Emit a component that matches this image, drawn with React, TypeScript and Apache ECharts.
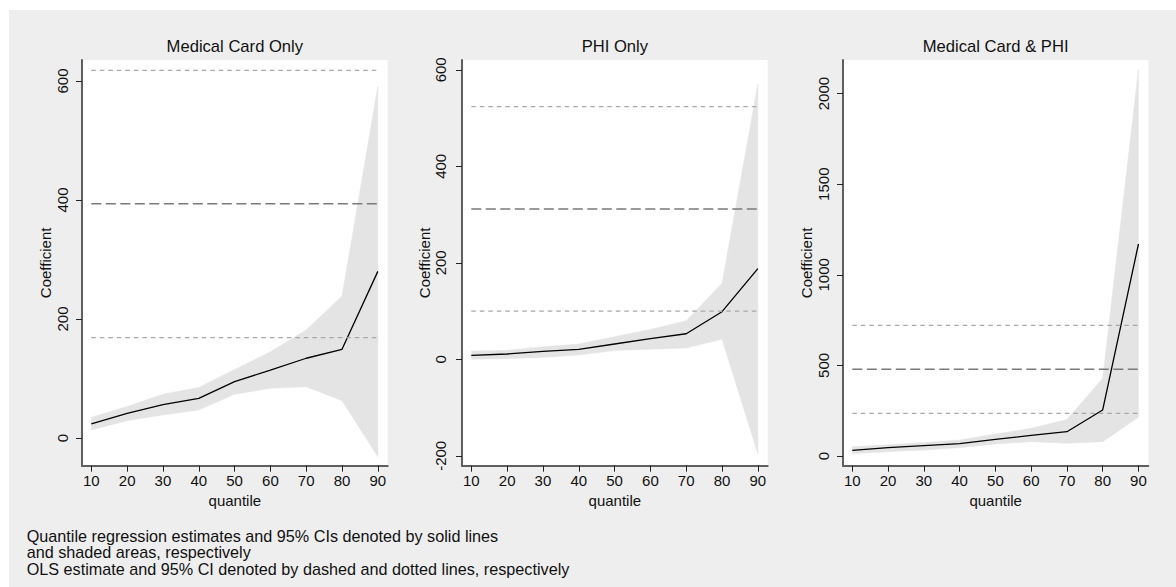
import React, { useEffect, useRef } from "react";
import * as echarts from "echarts";

// ---------- data ----------
const QUANTILES = [10, 20, 30, 40, 50, 60, 70, 80, 90];
const PANEL_TITLES = ["Medical Card Only", "PHI Only", "Medical Card & PHI"];

// Medical Card Only
const MC_EST = [23.5, 41.5, 56, 66.7, 94.6, 114, 134, 149, 280];
const MC_HI = [35, 53, 73.4, 85, 115, 145, 181.5, 238.7, 591.6];
const MC_LO = [13.4, 29, 38.7, 47, 73.4, 83.5, 86, 62.7, -31.4];
const MC_OLS = 393.8;
const MC_OLS_LO = 168.6;
const MC_OLS_HI = 618;

// PHI Only
const PHI_EST = [8.3, 11, 16.6, 20.7, 31.7, 42.7, 53, 98.7, 187.8];
const PHI_HI = [17, 18.6, 26, 31.7, 47, 62, 80, 157.5, 570.6];
const PHI_LO = [0, 1.4, 4, 9, 18, 21, 23.4, 41.5, -196];
const PHI_OLS = 311.5;
const PHI_OLS_LO = 100;
const PHI_OLS_HI = 523.5;

// Medical Card & PHI
const BOTH_EST = [31, 46, 57, 68, 92, 114, 134, 254, 1170];
const BOTH_HI = [51, 62, 75, 88, 121, 153, 202, 429, 2134];
const BOTH_LO = [13, 24, 33, 46, 66, 79, 70, 79, 214];
const BOTH_OLS = 478.5;
const BOTH_OLS_LO = 235.6;
const BOTH_OLS_HI = 721;

const Y_TICKS_MC = [0, 200, 400, 600];
const Y_TICKS_PHI = [-200, 0, 200, 400, 600];
const Y_TICKS_BOTH = [0, 500, 1000, 1500, 2000];
const Y_RANGE_MC = [-46.6, 635.3];
const Y_RANGE_PHI = [-220.5, 620.3];
const Y_RANGE_BOTH = [-53.5, 2185.4];
const X_TICKS = QUANTILES;
const X_RANGE = [7.4, 92.75];

const Y_TITLE = "Coefficient";
const X_TITLE = "quantile";
const NOTES = [
  "Quantile regression estimates and 95% CIs denoted by solid lines",
  "and shaded areas, respectively",
  "OLS estimate and 95% CI denoted by dashed and dotted lines, respectively",
];

// ---------- styling / layout ----------
const FONT = "'Liberation Sans', Arial, Helvetica, sans-serif";
const TEXT = "#111111";
const BG = "#eeeeee";
const BAND = "#e4e4e4";
const AXIS = "#5f5f5f";

const GRIDS = [
  { left: 82, top: 60, width: 305.7, height: 405.7, labelMargin: 12.5 },
  { left: 462, top: 60, width: 305.7, height: 405.7, labelMargin: 14.5 },
  { left: 843, top: 60, width: 305.3, height: 405.7, labelMargin: 12.5 },
];

const PANELS = [
  { est: MC_EST, hi: MC_HI, lo: MC_LO, ols: MC_OLS, olsLo: MC_OLS_LO, olsHi: MC_OLS_HI, ticks: Y_TICKS_MC, range: Y_RANGE_MC },
  { est: PHI_EST, hi: PHI_HI, lo: PHI_LO, ols: PHI_OLS, olsLo: PHI_OLS_LO, olsHi: PHI_OLS_HI, ticks: Y_TICKS_PHI, range: Y_RANGE_PHI },
  { est: BOTH_EST, hi: BOTH_HI, lo: BOTH_LO, ols: BOTH_OLS, olsLo: BOTH_OLS_LO, olsHi: BOTH_OLS_HI, ticks: Y_TICKS_BOTH, range: Y_RANGE_BOTH },
];

const plain = (v: number) => String(v);

function buildOption() {
  const grid: any[] = [];
  const xAxis: any[] = [];
  const yAxis: any[] = [];
  const series: any[] = [];
  const graphic: any[] = [
    { type: "rect", shape: { x: 0, y: 0, width: 1176, height: 10 }, style: { fill: "#ffffff" }, silent: true },
    { type: "rect", shape: { x: 0, y: 0, width: 9, height: 587 }, style: { fill: "#ffffff" }, silent: true },
  ];

  PANELS.forEach((p, i) => {
    const g = GRIDS[i];
    grid.push({
      left: g.left,
      top: g.top,
      width: g.width,
      height: g.height,
      show: true,
      backgroundColor: "#ffffff",
      borderWidth: 0,
      containLabel: false,
    });
    xAxis.push({
      type: "value",
      gridIndex: i,
      min: X_RANGE[0],
      max: X_RANGE[1],
      name: X_TITLE,
      nameLocation: "middle",
      nameGap: 23,
      nameTextStyle: { fontFamily: FONT, fontSize: 15, color: TEXT },
      axisLine: { show: true, onZero: false, lineStyle: { color: AXIS, width: 2 } },
      axisTick: { show: true, length: 6, customValues: X_TICKS, lineStyle: { color: "#222", width: 1 } },
      axisLabel: { show: true, customValues: X_TICKS, formatter: plain, margin: 7.6, fontFamily: FONT, fontSize: 15, color: TEXT },
      splitLine: { show: false },
    });
    yAxis.push({
      type: "value",
      gridIndex: i,
      min: p.range[0],
      max: p.range[1],
      name: Y_TITLE,
      nameLocation: "middle",
      nameGap: 29,
      nameTextStyle: { fontFamily: FONT, fontSize: 15, color: TEXT },
      axisLine: { show: true, onZero: false, lineStyle: { color: AXIS, width: 2 } },
      axisTick: { show: true, length: 6, customValues: p.ticks, lineStyle: { color: "#222", width: 1 } },
      axisLabel: {
        show: true,
        customValues: p.ticks,
        formatter: plain,
        rotate: 90,
        margin: g.labelMargin,
        fontFamily: FONT,
        fontSize: 15,
        color: TEXT,
      },
      splitLine: { show: false },
    });

    const hi = p.hi;
    const lo = p.lo;
    series.push({
      type: "custom",
      xAxisIndex: i,
      yAxisIndex: i,
      silent: true,
      z: 1,
      encode: { x: 0, y: 1 },
      data: [[QUANTILES[0], lo[0]]],
      renderItem: (_params: any, api: any) => {
        const pts: number[][] = [];
        for (let k = 0; k < QUANTILES.length; k++) pts.push(api.coord([QUANTILES[k], hi[k]]));
        for (let k = QUANTILES.length - 1; k >= 0; k--) pts.push(api.coord([QUANTILES[k], lo[k]]));
        return { type: "polygon", shape: { points: pts }, style: { fill: BAND, stroke: BAND, lineWidth: 0.5 } };
      },
    });
    series.push({
      type: "line",
      xAxisIndex: i,
      yAxisIndex: i,
      z: 3,
      symbol: "none",
      silent: true,
      data: QUANTILES.map((q, k) => [q, p.est[k]]),
      lineStyle: { color: "#000000", width: 1.3 },
    });
    const first = QUANTILES[0];
    const last = QUANTILES[QUANTILES.length - 1];
    series.push({
      type: "line",
      xAxisIndex: i,
      yAxisIndex: i,
      z: 4,
      symbol: "none",
      silent: true,
      data: [[first, p.ols], [last, p.ols]],
      lineStyle: { color: "#7a7a7a", width: 1.6, type: [10, 4.5] },
    });
    [p.olsLo, p.olsHi].forEach((v) => {
      series.push({
        type: "line",
        xAxisIndex: i,
        yAxisIndex: i,
        z: 4,
        symbol: "none",
        silent: true,
        data: [[first, v], [last, v]],
        lineStyle: { color: "#a8a8a8", width: 1.3, type: [4.5, 4] },
      });
    });

    graphic.push({
      type: "text",
      x: g.left + g.width / 2,
      y: 46.2,
      silent: true,
      style: {
        text: PANEL_TITLES[i],
        fontFamily: FONT,
        fontSize: 16.6,
        fill: TEXT,
        align: "center",
        verticalAlign: "middle",
      },
    });
  });

  const noteY = [536.0, 552.3, 568.6];
  NOTES.forEach((t, k) => {
    graphic.push({
      type: "text",
      x: 26.7,
      y: noteY[k],
      silent: true,
      style: {
        text: t,
        fontFamily: FONT,
        fontSize: 16.2,
        lineHeight: 16.2,
        fill: TEXT,
        align: "left",
        verticalAlign: "middle",
      },
    });
  });

  return {
    animation: false,
    backgroundColor: BG,
    grid,
    xAxis,
    yAxis,
    series,
    graphic,
  };
}

export default function App() {
  const ref = useRef<HTMLDivElement | null>(null);
  useEffect(() => {
    if (!ref.current) return;
    const chart = echarts.init(ref.current, null, { renderer: "svg" });
    chart.setOption(buildOption() as any);
    return () => chart.dispose();
  }, []);
  return (
    <div
      ref={ref}
      style={{ position: "absolute", left: 0, top: 0, width: 1176, height: 587 }}
    />
  );
}
